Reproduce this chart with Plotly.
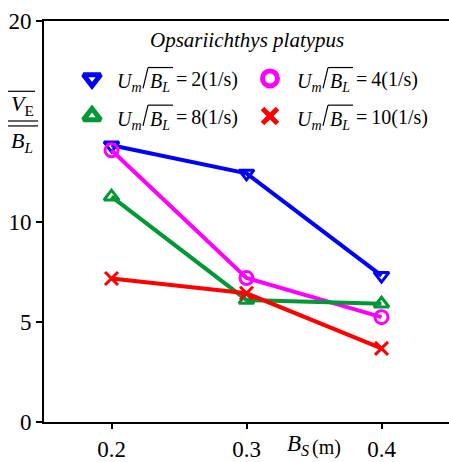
import plotly.graph_objects as go

bs = [0.2, 0.3, 0.4]
ratio_2 = [13.8, 12.4, 7.3]
ratio_4 = [13.55, 7.18, 5.23]
ratio_8 = [11.24, 6.09, 5.9]
ratio_10 = [7.16, 6.42, 3.67]
labels = ["2", "4", "8", "10"]
series = [ratio_2, ratio_4, ratio_8, ratio_10]
colors = ["#0000FF", "#FF00FF", "#009933", "#FF0000"]
symbols = ["triangle-down-open", "circle-open", "triangle-up-open", "x-thin-open"]
ytick_vals = [0, 5, 10, 20]
xtick_vals = [0.2, 0.3, 0.4]

FONT = "Liberation Serif"
W, H = 449, 462
L, R, T, B = 44, 0, 21, 36
PW, PH = W - L - R, H - T - B


def px(x):
    return (x - L) / PW


def py(y):
    return (H - B - y) / PH


fig = go.Figure()
for lab, ys, c, s in zip(labels, series, colors, symbols):
    fig.add_trace(go.Scatter(
        x=bs, y=ys, mode="lines+markers", showlegend=False,
        line=dict(color=c, width=4),
        marker=dict(symbol=s, size=13, color=c, line=dict(color=c, width=3)),
    ))


def seg(x0, y0, x1, y1, w=1.2):
    fig.add_shape(type="line", xref="paper", yref="paper",
                  x0=px(x0), x1=px(x1), y0=py(y0), y1=py(y1),
                  line=dict(color="black", width=w))


# manual legend: marker x, marker y, text x, text y (pixels)
leg_pos = [(92, 79, 117, 81), (270, 79, 297, 81), (92, 117, 117, 119), (270, 117, 297, 119)]
for lab, c, s, (mx, my, tx, ty) in zip(labels, colors, symbols, leg_pos):
    fig.add_annotation(text="<i>U</i><sub><i>m</i></sub>", xref="paper", yref="paper",
                       x=px(tx - 2), y=py(ty + 2), xanchor="left", yanchor="middle", showarrow=False,
                       font=dict(size=20, family=FONT))
    seg(tx + 26, ty + 8, tx + 31, ty - 13)
    seg(tx + 31, ty - 13, tx + 56, ty - 13)
    fig.add_annotation(text="<i>B</i><sub><i>L</i></sub>", xref="paper", yref="paper",
                       x=px(tx + 31), y=py(ty + 2), xanchor="left", yanchor="middle", showarrow=False,
                       font=dict(size=20, family=FONT))
    fig.add_annotation(text="=\u2009" + lab + "(1/s)", xref="paper", yref="paper",
                       x=px(tx + 57), y=py(ty - 1), xanchor="left", yanchor="middle", showarrow=False,
                       font=dict(size=20, family=FONT))

fig.add_trace(go.Scatter(
    x=[p[0] for p in leg_pos], y=[p[1] for p in leg_pos], mode="markers",
    xaxis="x2", yaxis="y2", showlegend=False,
    marker=dict(symbol=symbols, size=15, color=colors, line=dict(color=colors, width=5)),
))

fig.update_layout(
    width=W, height=H,
    margin=dict(l=L, r=R, t=T, b=B),
    plot_bgcolor="white", paper_bgcolor="white",
    font=dict(family=FONT, size=20, color="black"),
    showlegend=False,
    xaxis=dict(range=[0.15, 0.45], tickvals=xtick_vals, ticktext=["0.2", "0.3", "0.4"],
               showline=True, linecolor="black", linewidth=2, mirror=True,
               ticks="outside", ticklen=5, tickwidth=2, tickcolor="black",
               showgrid=False, zeroline=False, tickfont=dict(size=23, family=FONT)),
    yaxis=dict(range=[0, 20], tickvals=ytick_vals,
               showline=True, linecolor="black", linewidth=2, mirror=False,
               ticks="outside", ticklen=6, tickwidth=2, tickcolor="black",
               showgrid=False, zeroline=False, tickfont=dict(size=23, family=FONT)),
    xaxis2=dict(range=[L, W - R], overlaying="x", visible=False, fixedrange=True),
    yaxis2=dict(range=[H - B, T], overlaying="y", visible=False, fixedrange=True),
)

fig.add_annotation(text="<i>Opsariichthys platypus</i>", xref="paper", yref="paper",
                   x=px(247), y=py(40), xanchor="center", yanchor="middle", showarrow=False,
                   font=dict(size=21, family=FONT))
fig.add_annotation(text="<i>B</i><sub><i>S</i></sub>", xref="paper", yref="paper",
                   x=px(285), y=py(449), xanchor="left", yanchor="middle", showarrow=False,
                   font=dict(size=23, family=FONT))
fig.add_annotation(text="(m)", xref="paper", yref="paper",
                   x=px(310), y=py(452), xanchor="left", yanchor="middle", showarrow=False,
                   font=dict(size=20, family=FONT))
fig.add_annotation(text="<i>V</i><sub>E</sub>", xref="paper", yref="paper",
                   x=px(9), y=py(106), xanchor="left", yanchor="middle", showarrow=False,
                   font=dict(size=22, family=FONT))
fig.add_annotation(text="<i>B</i><sub><i>L</i></sub>", xref="paper", yref="paper",
                   x=px(9), y=py(143), xanchor="left", yanchor="middle", showarrow=False,
                   font=dict(size=22, family=FONT))
seg(8, 92, 35, 92)
seg(8, 122, 38, 122)
seg(8, 127, 38, 127)

fig.write_html("out.html")
